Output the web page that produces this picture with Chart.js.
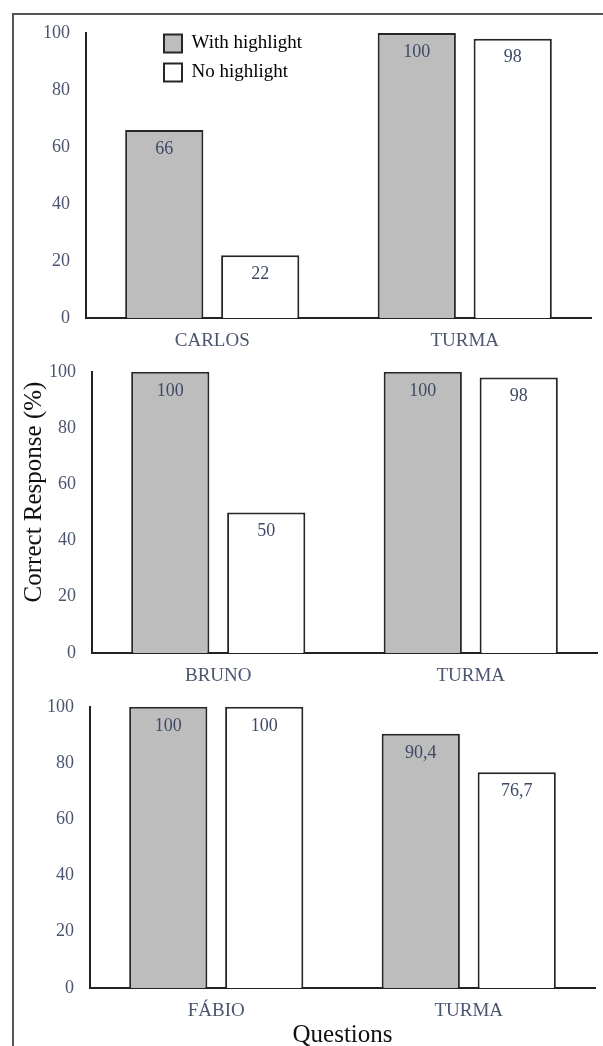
<!DOCTYPE html>
<html>
<head>
<meta charset="utf-8">
<title>Correct Response (%)</title>
<script src="https://cdn.jsdelivr.net/npm/chart.js@4.4.1/dist/chart.umd.min.js"></script>
<style>
  html, body { margin: 0; padding: 0; background: #fff; }
  body { width: 603px; height: 1046px; position: relative; overflow: hidden; }
  canvas { position: absolute; left: 0; }
  #frame {
    position: absolute; left: 12px; top: 13px; width: 640px; height: 1080px;
    border: 2px solid #555; box-sizing: border-box; pointer-events: none;
  }
  #ytitle {
    position: absolute; left: 33px; top: 492px;
    transform: translate(-50%, -50%) rotate(-90deg);
    font: 25px "Liberation Serif", "Times New Roman", serif; color: #111;
    white-space: nowrap;
  }
</style>
</head>
<body>
<canvas id="p1" width="603" height="360" style="top:0px"></canvas>
<canvas id="p2" width="603" height="350" style="top:345px"></canvas>
<canvas id="p3" width="603" height="370" style="top:680px"></canvas>
<div id="frame"></div>
<div id="ytitle">Correct Response (%)</div>
<script>
// data
const seriesNames = ['With highlight', 'No highlight'];

const carlosCats = ['CARLOS', 'TURMA'];
const carlosWith = [66, 100];
const carlosNo = [22, 98];

const brunoCats = ['BRUNO', 'TURMA'];
const brunoWith = [100, 100];
const brunoNo = [50, 98];

const fabioCats = ['FÁBIO', 'TURMA'];
const fabioWith = [100, 90.4];
const fabioNo = [100, 76.7];

const xTitle = 'Questions';

const SERIF = '"Liberation Serif", "Times New Roman", serif';
const TICK_COLOR = '#4b5570';
const VALUE_COLOR = '#3e4966';

// value printed inside the top of each bar, comma as decimal mark
const barValueLabels = {
  id: 'barValueLabels',
  afterDatasetsDraw(chart) {
    const ctx = chart.ctx;
    ctx.save();
    ctx.font = '18px ' + SERIF;
    ctx.fillStyle = VALUE_COLOR;
    ctx.textAlign = 'center';
    ctx.textBaseline = 'middle';
    chart.data.datasets.forEach((ds, di) => {
      chart.getDatasetMeta(di).data.forEach((bar, i) => {
        ctx.fillText(String(ds.data[i]).replace('.', ','), bar.x, bar.y + 19);
      });
    });
    ctx.restore();
  }
};

// legend sits inside the first plot, so move the box after layout
const moveLegend = {
  id: 'moveLegend',
  afterLayout(chart, args, opts) {
    const lg = chart.legend;
    if (!lg || opts.x === undefined) return;
    const w = lg.width, h = lg.height;
    lg.left = opts.x; lg.top = opts.y;
    lg.right = opts.x + w; lg.bottom = opts.y + h;
  }
};

function makePanel(id, cats, withVals, noVals, box, showLegend, showXTitle) {
  const canvasTop = box.canvasTop;
  const canvasH = document.getElementById(id).height;
  return new Chart(document.getElementById(id), {
    type: 'bar',
    data: {
      labels: cats,
      datasets: [
        {
          label: seriesNames[0], data: withVals,
          backgroundColor: '#bdbdbd', borderColor: '#262626', borderWidth: 2
        },
        {
          label: seriesNames[1], data: noVals,
          backgroundColor: '#ffffff', borderColor: '#262626', borderWidth: 2
        }
      ]
    },
    options: {
      responsive: false,
      animation: false,
      categoryPercentage: 0.76,
      barPercentage: 0.815,
      layout: {
        padding: { left: 0, top: box.top - canvasTop, right: 603 - box.right, bottom: 0 }
      },
      scales: {
        x: {
          grid: { display: false, drawTicks: false },
          border: { display: true, color: '#222', width: 2 },
          ticks: { color: TICK_COLOR, padding: 12, font: { family: SERIF, size: 19 } },
          title: {
            display: showXTitle, text: xTitle, color: '#111',
            padding: { top: 0, bottom: 0 }, font: { family: SERIF, size: 25 }
          },
          afterFit(scale) { scale.height = canvasTop + canvasH - box.bottom; }
        },
        y: {
          min: 0, max: 100,
          grid: { display: false, drawTicks: false },
          border: { display: true, color: '#222', width: 2 },
          ticks: { stepSize: 20, color: TICK_COLOR, padding: 16, font: { family: SERIF, size: 18 } },
          afterFit(scale) { scale.width = box.left; }
        }
      },
      plugins: {
        tooltip: { enabled: false },
        legend: {
          display: showLegend,
          position: 'chartArea',
          align: 'start',
          labels: {
            boxWidth: 18, boxHeight: 18, padding: 10,
            color: '#000', font: { family: SERIF, size: 19 }
          }
        },
        moveLegend: showLegend ? { x: 154, y: 24 } : {}
      }
    },
    plugins: [barValueLabels, moveLegend]
  });
}

makePanel('p1', carlosCats, carlosWith, carlosNo,
  { canvasTop: 0, left: 86, right: 591, top: 33, bottom: 318 }, true, false);
makePanel('p2', brunoCats, brunoWith, brunoNo,
  { canvasTop: 345, left: 92, right: 597, top: 369, bottom: 653 }, false, false);
makePanel('p3', fabioCats, fabioWith, fabioNo,
  { canvasTop: 680, left: 90, right: 595, top: 703, bottom: 988 }, false, true);
</script>
</body>
</html>
